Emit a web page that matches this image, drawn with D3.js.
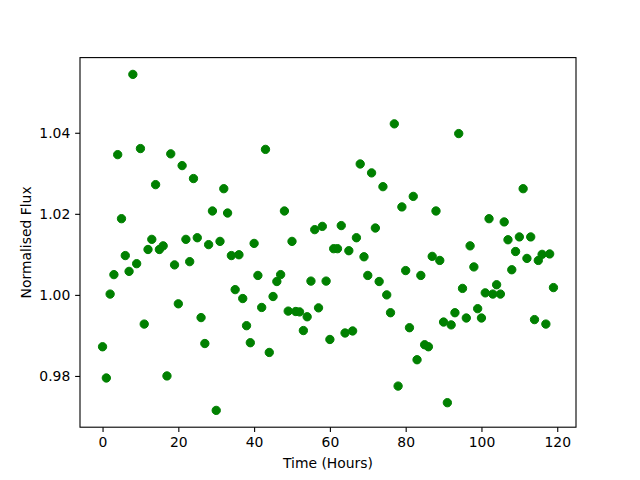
<!DOCTYPE html>
<html>
<head>
<meta charset="utf-8">
<script src="https://cdn.jsdelivr.net/npm/d3@7"></script>
<style>
  body { margin: 0; background: #fff; }
  svg { display: block; }
  .axis text { font-family: "DejaVu Sans", sans-serif; font-size: 13.9px; fill: #000; }
  .axis path, .axis line { stroke: #000; stroke-width: 1.1; }
  .label { font-family: "DejaVu Sans", sans-serif; font-size: 13.9px; fill: #000; }
</style>
</head>
<body>
<div id="chart"></div>
<script>
"use strict";

// hours since start, one reading per hour
var hours = d3.range(0, 120);

var flux = [
  0.9872, 0.9795, 1.0002, 1.0050, 1.0346, 1.0188, 1.0097, 1.0058, 1.0544, 1.0077,
  1.0361, 0.9928, 1.0112, 1.0137, 1.0272, 1.0112, 1.0121, 0.9800, 1.0348, 1.0074,
  0.9978, 1.0319, 1.0137, 1.0082, 1.0287, 1.0141, 0.9944, 0.9880, 1.0124, 1.0207,
  0.9715, 1.0132, 1.0262, 1.0202, 1.0097, 1.0013, 1.0099, 0.9991, 0.9924, 0.9882,
  1.0127, 1.0048, 0.9969, 1.0359, 0.9858, 0.9996, 1.0033, 1.0050, 1.0207, 0.9960,
  1.0132, 0.9959, 0.9958, 0.9912, 0.9946, 1.0034, 1.0161, 0.9968, 1.0169, 1.0034,
  0.9890, 1.0114, 1.0114, 1.0171, 0.9906, 1.0109, 0.9911, 1.0141, 1.0323, 1.0094,
  1.0048, 1.0301, 1.0165, 1.0033, 1.0267, 1.0000, 0.9956, 1.0422, 0.9775, 1.0217,
  1.0060, 0.9919, 1.0243, 0.9840, 1.0048, 0.9877, 0.9872, 1.0095, 1.0207, 1.0085,
  0.9933, 0.9734, 0.9926, 0.9956, 1.0398, 1.0016, 0.9943, 1.0121, 1.0069, 0.9966,
  0.9943, 1.0005, 1.0188, 1.0002, 1.0025, 1.0002, 1.0180, 1.0136, 1.0062, 1.0107,
  1.0143, 1.0262, 1.0090, 1.0143, 0.9939, 1.0085, 1.0100, 0.9928, 1.0101, 1.0018
];

var xTicks = [0, 20, 40, 60, 80, 100, 120];
var yTicks = [0.98, 1.00, 1.02, 1.04];

var width = 640, height = 480;
var margin = {top: 57.6, right: 64, bottom: 52.8, left: 80};

var svg = d3.select("#chart").append("svg")
    .attr("width", width)
    .attr("height", height);

// matplotlib style 5% padding around the data
function padded(ext) {
    var p = (ext[1] - ext[0]) * 0.05;
    return [ext[0] - p, ext[1] + p];
}

var x = d3.scaleLinear()
    .domain(padded(d3.extent(hours)))
    .range([margin.left, width - margin.right]);

var y = d3.scaleLinear()
    .domain(padded(d3.extent(flux)))
    .range([height - margin.bottom, margin.top]);

var tick = 4.86;

svg.append("g")
    .attr("class", "axis")
    .attr("transform", "translate(0," + (height - margin.bottom) + ")")
    .call(d3.axisBottom(x).tickValues(xTicks).tickSize(tick).tickPadding(4.86).tickSizeOuter(0))
    .select(".domain").remove();

svg.append("g")
    .attr("class", "axis")
    .attr("transform", "translate(" + margin.left + ",0)")
    .call(d3.axisLeft(y).tickValues(yTicks).tickFormat(d3.format(".2f")).tickSize(tick).tickPadding(4.86).tickSizeOuter(0))
    .select(".domain").remove();

// frame
svg.append("rect")
    .attr("x", margin.left)
    .attr("y", margin.top)
    .attr("width", width - margin.left - margin.right)
    .attr("height", height - margin.top - margin.bottom)
    .attr("fill", "none")
    .attr("stroke", "#000")
    .attr("stroke-width", 1.1);

svg.append("g")
    .selectAll("circle")
    .data(hours)
    .enter().append("circle")
    .attr("cx", function (d) { return x(d); })
    .attr("cy", function (d, i) { return y(flux[i]); })
    .attr("r", 4.17)
    .attr("fill", "green")
    .attr("stroke", "green")
    .attr("stroke-width", 1);

svg.append("text")
    .attr("class", "label")
    .attr("x", (margin.left + width - margin.right) / 2)
    .attr("y", 468)
    .attr("text-anchor", "middle")
    .text("Time (Hours)");

svg.append("text")
    .attr("class", "label")
    .attr("transform", "translate(31," + ((margin.top + height - margin.bottom) / 2) + ") rotate(-90)")
    .attr("text-anchor", "middle")
    .text("Normalised Flux");
</script>
</body>
</html>
